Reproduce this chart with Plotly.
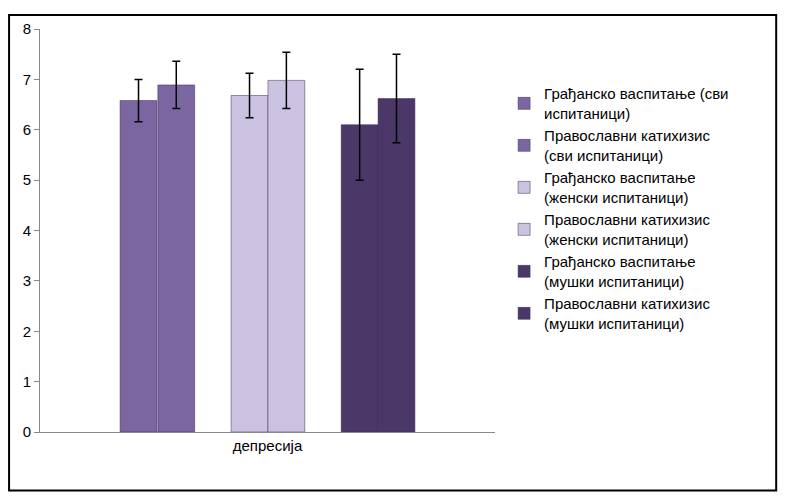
import plotly.graph_objects as go

category = ["депресија"]
names = ["Грађанско васпитање (сви<br>испитаници)", "Православни катихизис<br>(сви испитаници)",
         "Грађанско васпитање<br>(женски испитаници)", "Православни катихизис<br>(женски испитаници)",
         "Грађанско васпитање<br>(мушки испитаници)", "Православни катихизис<br>(мушки испитаници)"]
values = [6.58, 6.89, 6.68, 6.98, 6.1, 6.62]
errors = [0.42, 0.47, 0.44, 0.56, 1.1, 0.88]
colors = ["#7b66a1", "#7b66a1", "#cbc2e2", "#cbc2e2", "#4b3869", "#4b3869"]
offsets = [-0.324, -0.241, -0.080, 0.001, 0.162, 0.243]

fig = go.Figure()
for n, v, e, c, o in zip(names, values, errors, colors, offsets):
    fig.add_trace(go.Bar(x=category, y=[v], name=n, width=0.081, offset=o,
                         marker=dict(color=c, line=dict(color="#3a2d52", width=0.5)),
                         error_y=dict(type="data", array=[e], color="black", thickness=1.5, width=4)))

fig.update_layout(
    width=770, height=484, paper_bgcolor="white", plot_bgcolor="white",
    margin=dict(l=32, r=283, t=15, b=60), barmode="overlay",
    font=dict(family="Liberation Sans", size=15, color="black"),
    showlegend=True,
    legend=dict(x=1.02, y=0.88, yanchor="top", xanchor="left", font=dict(size=15),
                tracegroupgap=22, bgcolor="rgba(0,0,0,0)"),
    yaxis=dict(range=[0, 8], dtick=1, showgrid=False, showline=True, linecolor="#888",
               ticks="outside", ticklen=5, tickcolor="#888", tickfont=dict(size=15)),
    xaxis=dict(showline=True, linecolor="#888", ticks="", tickfont=dict(size=15)),
    shapes=[dict(type="rect", xref="paper", yref="paper", x0=-0.068, x1=1.618, y0=-0.145, y1=1.035,
                 line=dict(color="black", width=2))],
)
fig.write_html("out.html")
